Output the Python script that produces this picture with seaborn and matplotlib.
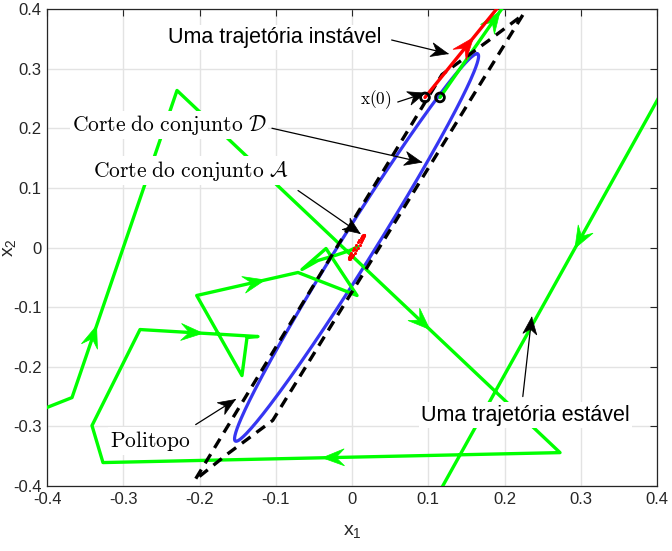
import numpy as np
import pandas as pd
import matplotlib
matplotlib.use("Agg")
import matplotlib.pyplot as plt
import seaborn as sns
from matplotlib.patches import Polygon

# ---------------- data ----------------
# stable trajectory (green), vertices in state space
green_x = [0.1154, 0.33, 0.7415, 0.032, -0.70, -0.3672, -0.2295, 0.2728, -0.3266,
           -0.341, -0.278, -0.1233, -0.1377, -0.1443, -0.2037, -0.0708, 0.0066,
           -0.0341, -0.0656, -0.0446, -0.0223, -0.0026, 0.0079, 0.0039]
green_y = [0.2517, 0.645, 1.0314, -0.60, -0.42, -0.2517, 0.2634, -0.3440, -0.3607,
           -0.2987, -0.1376, -0.1493, -0.1510, -0.2148, -0.0805, -0.0419, -0.0805,
           -0.0017, -0.0369, -0.0218, -0.0134, -0.0050, 0.0017, -0.0034]
# unstable trajectory (red)
red_x = [0.0957, 0.35]
red_y = [0.2517, 0.653]
# initial conditions
x0_x = [0.0957, 0.1154]
x0_y = [0.2517, 0.2517]
# ellipse (cut of set D): centre and two conjugate semi-diameters
ellD_center = [0.006, 0.0]
ellD_axis1 = [0.158, 0.325]
ellD_axis2 = [0.0255, 0.0]
# small set A cut
ellA_center = [0.006, 0.001]
ellA_axis1 = [0.0095, 0.020]
ellA_axis2 = [0.0025, 0.0]
# polytope vertices
poly_x = [0.224, -0.104, -0.163, -0.206, 0.118, 0.178, 0.224]
poly_y = [0.390, -0.290, -0.346, -0.390, 0.290, 0.346, 0.390]
# arrows along trajectories: segment index and fraction of the segment
green_arrow_seg = [0, 2, 5, 6, 7, 10, 14]
green_arrow_t = [0.367, 0.633, 0.234, 0.66, 0.52, 0.534, 0.675]
red_arrow_t = 0.25
ticks = [-0.4, -0.3, -0.2, -0.1, 0.0, 0.1, 0.2, 0.3, 0.4]
tick_labels = ['-0.4', '-0.3', '-0.2', '-0.1', '0', '0.1', '0.2', '0.3', '0.4']

# ---------------- style ----------------
sns.set_theme(style="whitegrid")
plt.rcParams['font.family'] = ['Liberation Sans', 'DejaVu Sans']
plt.rcParams['mathtext.fontset'] = 'custom'
plt.rcParams['mathtext.rm'] = 'Liberation Sans'
plt.rcParams['mathtext.it'] = 'Liberation Sans:italic'

fig = plt.figure(figsize=(6.72, 5.51), dpi=100)
ax = fig.add_axes([47/672, 1-486/551, 610/672, 477/551])
ax.set_facecolor('white')
ax.set_xlim(-0.4, 0.4)
ax.set_ylim(-0.4, 0.4)

GREEN = '#00ff00'
RED = '#ff0000'
BLUE = '#3636f2'

def ellipse_df(c, a1, a2, n=300):
    t = np.linspace(0, 2*np.pi, n)
    return pd.DataFrame({'x': c[0] + np.cos(t)*a1[0] + np.sin(t)*a2[0],
                         'y': c[1] + np.cos(t)*a1[1] + np.sin(t)*a2[1],
                         'o': np.arange(n)})

dfD = ellipse_df(ellD_center, ellD_axis1, ellD_axis2)
sns.lineplot(data=dfD, x='x', y='y', sort=False, estimator=None, color=BLUE,
             lw=2.3, ax=ax, zorder=2)

dfG = pd.DataFrame({'x': green_x, 'y': green_y})
sns.lineplot(data=dfG, x='x', y='y', sort=False, estimator=None, color=GREEN,
             lw=2.4, ax=ax, zorder=3)

dfP = pd.DataFrame({'x': poly_x, 'y': poly_y})
sns.lineplot(data=dfP, x='x', y='y', sort=False, estimator=None, color='black',
             lw=2.4, ax=ax, zorder=4, dashes=False)
ax.lines[-1].set_dashes((3.2, 2.2))

dfR = pd.DataFrame({'x': red_x, 'y': red_y})
sns.lineplot(data=dfR, x='x', y='y', sort=False, estimator=None, color=RED,
             lw=2.4, ax=ax, zorder=5)

dfA = ellipse_df(ellA_center, ellA_axis1, ellA_axis2, n=28)
sns.scatterplot(data=dfA, x='x', y='y', color=RED, s=5, linewidth=0, ax=ax, zorder=6)

dfX0 = pd.DataFrame({'x': x0_x, 'y': x0_y})
sns.scatterplot(data=dfX0, x='x', y='y', s=40, facecolor='none', edgecolor='black',
                linewidth=2.0, ax=ax, zorder=7)


def head(tip, tail, color, L, W, back, z):
    p = ax.transData.transform(tip)
    q = ax.transData.transform(tail)
    u = (p - q) / np.hypot(*(p - q))
    n = np.array([-u[1], u[0]])
    verts = [p, p - L*u + W*n, p - back*L*u, p - L*u - W*n]
    vd = ax.transData.inverted().transform(verts)
    ax.add_patch(Polygon(vd, closed=True, fc=color, ec=color, lw=0.5, zorder=z))

for s, t in zip(green_arrow_seg, green_arrow_t):
    a = np.array([green_x[s], green_y[s]])
    b = np.array([green_x[s+1], green_y[s+1]])
    head(a + t*(b - a), a, GREEN, 22, 8.5, 0.62, 3)
a = np.array([red_x[0], red_y[0]]); b = np.array([red_x[1], red_y[1]])
head(a + red_arrow_t*(b - a), a, RED, 22, 8.5, 0.62, 5)

# ---------------- annotations ----------------
box = dict(facecolor='white', edgecolor='none', pad=1.5)

def note(text, txy, tail, tip, size, serif=False, ha='center'):
    kw = dict(math_fontfamily='cm') if serif else {}
    ax.text(txy[0], txy[1], text, fontsize=size, ha=ha, va='center', bbox=box,
            zorder=8, color='black', **kw)
    ax.plot([tail[0], tip[0]], [tail[1], tip[1]], color='black', lw=0.9, zorder=9)
    head(tip, tail, 'black', 17, 7, 0.7, 9)

note('Uma trajetória instável', (-0.101, 0.352), (0.052, 0.348), (0.126, 0.325), 15.5)
note(r'$\mathrm{x(0)}$', (0.031, 0.248), (0.06, 0.244), (0.0957, 0.259), 12.5, serif=True)
note(r'$\mathrm{Corte\ do\ conjunto}\ \mathcal{D}$', (-0.240, 0.206), (-0.105, 0.200),
     (0.0914, 0.143), 15.5, serif=True)
note(r'$\mathrm{Corte\ do\ conjunto}\ \mathcal{A}$', (-0.211, 0.129), (-0.0708, 0.0956),
     (0.0105, 0.0235), 15.5, serif=True)
note(r'$\mathrm{Politopo}$', (-0.265, -0.324), (-0.205, -0.297), (-0.153, -0.255),
     15.5, serif=True)
note('Uma trajetória estável', (0.227, -0.281), (0.224, -0.250), (0.2357, -0.117), 15.5)

# ---------------- axes cosmetics ----------------
ax.set_xticks(ticks)
ax.set_xticklabels(tick_labels)
ax.set_yticks(ticks)
ax.set_yticklabels(tick_labels)
ax.grid(True, color='#e3e3e3', lw=1.0)
ax.tick_params(direction='in', length=5, width=0.8, colors='#262626',
               labelsize=12, top=True, right=True, labelcolor='#262626', pad=4)
for sp in ax.spines.values():
    sp.set_visible(True)
    sp.set_color('#262626')
    sp.set_linewidth(0.9)
ax.set_xlabel(r'x$_\mathrm{1}$', fontsize=14, color='#262626')
ax.set_ylabel(r'x$_\mathrm{2}$', fontsize=14, color='#262626')
ax.xaxis.set_label_coords(0.5, -0.078)
ax.yaxis.set_label_coords(-0.048, 0.5)

fig.savefig('out.png', dpi=100)
